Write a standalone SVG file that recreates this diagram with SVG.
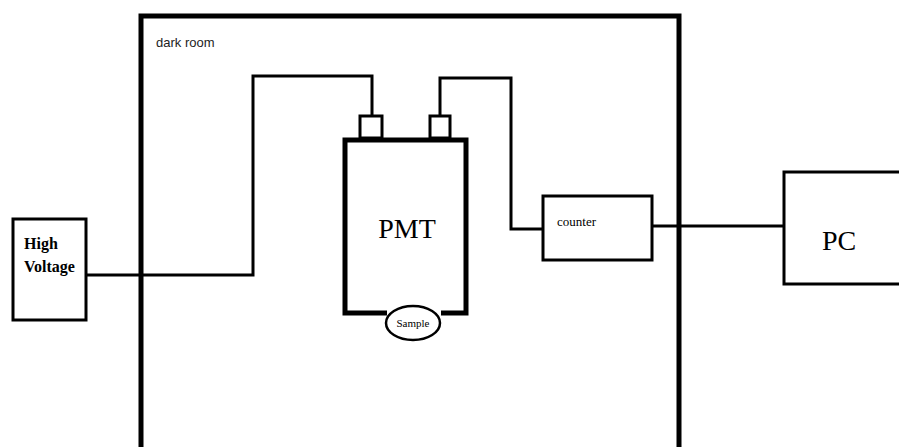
<svg xmlns="http://www.w3.org/2000/svg" width="899" height="447" viewBox="0 0 899 447">
<style>
.box{fill:#fff;stroke:#000;stroke-width:3}
.wire{fill:none;stroke:#000;stroke-width:3}
.serif{font-family:"Liberation Serif","Times New Roman",serif;fill:#000}
.sans{font-family:"Liberation Sans",Arial,sans-serif;fill:#222}
</style>
<rect width="899" height="447" fill="#fff"/>
<g id="dark-room">
<path d="M141,447 V16 H679 V447" fill="none" stroke="#000" stroke-width="5"/>
<text class="sans" x="156" y="47" font-size="13">dark room</text>
</g>
<g id="connectors">
<path class="wire" d="M86,275 H253 V76 H372 V117"/>
<path class="wire" d="M440,117 V78 H511 V229 H543"/>
<path class="wire" d="M652,226 H784"/>
</g>
<g id="high-voltage">
<rect class="box" x="13" y="219" width="73" height="101"/>
<text class="serif" x="24" y="249" font-size="16" font-weight="bold">High</text>
<text class="serif" x="24" y="272" font-size="16" font-weight="bold">Voltage</text>
</g>
<g id="pmt">
<rect class="box" x="360" y="116" width="22" height="22" stroke-width="2.5"/>
<rect class="box" x="430" y="116" width="20" height="22" stroke-width="2.5"/>
<path d="M387,313 H345 V140 H466 V313 H441" fill="none" stroke="#000" stroke-width="5"/>
<text class="serif" x="407" y="238" font-size="28" text-anchor="middle">PMT</text>
</g>
<g id="sample">
<ellipse cx="413" cy="323" rx="27" ry="17" fill="#fff" stroke="#000" stroke-width="2.5"/>
<text class="serif" x="413" y="327" font-size="11" text-anchor="middle">Sample</text>
</g>
<g id="counter">
<rect class="box" x="543" y="196" width="109" height="64"/>
<text class="serif" x="557" y="226" font-size="13">counter</text>
</g>
<g id="pc">
<rect class="box" x="784" y="172" width="130" height="112"/>
<text class="serif" x="822" y="250" font-size="28">PC</text>
</g>
</svg>
